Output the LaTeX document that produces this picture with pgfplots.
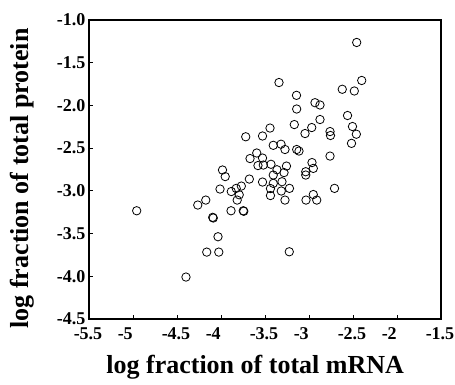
\documentclass[border=0pt]{standalone}
\usepackage{fontspec}
\setmainfont{Liberation Serif}
\usepackage{pgfplots}
\pgfplotsset{compat=1.18}
\begin{document}
\begin{tikzpicture}
\begin{axis}[
  scale only axis, width=352pt, height=299pt,
  xmin=-5.5, xmax=-1.5, ymin=-4.5, ymax=-1.0,
  xtick={-5.5,-5,-4.5,-4,-3.5,-3,-2.5,-2,-1.5},
  xticklabels={-5.5,{-5\phantom{.5}},-4.5,{-4\phantom{.5}},-3.5,{-3\phantom{.5}},-2.5,{-2\phantom{.5}},-1.5},
  ytick={-4.5,-4,-3.5,-3,-2.5,-2,-1.5,-1},
  yticklabels={-4.5,-4.0,-3.5,-3.0,-2.5,-2.0,-1.5,-1.0},
  tick label style={font=\fontsize{18}{20}\selectfont\bfseries},
  x tick label style={yshift=-5.5pt, xshift=-1pt},
  xlabel={log fraction of total mRNA},
  ylabel={log fraction of total protein},
  label style={font=\fontsize{26}{30}\selectfont\bfseries},
  x label style={at={(axis description cs:0.472,-0.1605)}, anchor=center},
  y label style={at={(axis description cs:-0.19,0.47)}, anchor=center},
  axis line style={line width=1.2pt},
  tick style={line width=0.8pt, black},
  major tick length=4pt, tick align=inside,
  xtick pos=bottom, ytick pos=left,
]
\addplot[only marks, mark=o, mark size=4.2pt, mark options={line width=0.8pt, black}] coordinates {
(-2.458,-1.263) (-3.341,-1.732) (-2.401,-1.708) (-2.622,-1.811) (-2.485,-1.831)
(-3.142,-1.882) (-3.140,-2.042) (-2.932,-1.968) (-2.875,-1.995) (-2.562,-2.118)
(-2.875,-2.165) (-3.167,-2.224) (-2.969,-2.259) (-2.506,-2.247) (-3.045,-2.329)
(-2.462,-2.337) (-2.761,-2.306) (-2.756,-2.352) (-3.443,-2.265) (-3.528,-2.358)
(-3.719,-2.367) (-2.517,-2.444) (-3.406,-2.467) (-3.318,-2.454) (-3.273,-2.516)
(-3.140,-2.516) (-3.114,-2.534) (-2.761,-2.593) (-3.594,-2.557) (-3.670,-2.622)
(-3.528,-2.616) (-3.580,-2.704) (-3.519,-2.698) (-3.432,-2.689) (-3.256,-2.710)
(-3.364,-2.753) (-3.284,-2.786) (-2.966,-2.669) (-2.951,-2.737) (-3.037,-2.776)
(-3.037,-2.815) (-3.406,-2.815) (-3.983,-2.756) (-3.952,-2.833) (-3.678,-2.862)
(-3.528,-2.897) (-3.406,-2.912) (-3.307,-2.893) (-3.222,-2.971) (-3.315,-3.002)
(-3.438,-2.973) (-3.438,-3.055) (-3.273,-3.108) (-2.951,-3.043) (-2.710,-2.971)
(-3.034,-3.108) (-2.912,-3.108) (-3.224,-3.713) (-4.011,-2.979) (-3.883,-3.008)
(-3.827,-2.971) (-3.769,-2.944) (-3.793,-3.046) (-3.816,-3.108) (-4.173,-3.108)
(-4.264,-3.166) (-3.886,-3.233) (-3.747,-3.233) (-3.741,-3.239) (-4.094,-3.310)
(-4.088,-3.318) (-4.034,-3.537) (-4.162,-3.717) (-4.025,-3.717) (-4.958,-3.233)
(-4.398,-4.009)
};
\end{axis}
\pgfresetboundingbox
\path ([xshift=-89pt,yshift=-66pt]current axis.south west) rectangle ([xshift=14pt,yshift=20pt]current axis.north east);
\end{tikzpicture}
\end{document}
